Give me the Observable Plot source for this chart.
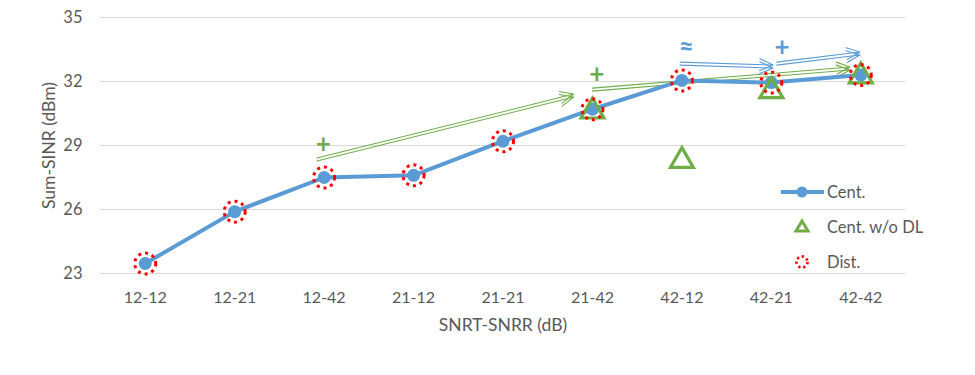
<!DOCTYPE html>
<html>
<head>
<meta charset="utf-8">
<script src="https://cdn.jsdelivr.net/npm/d3@7"></script>
<script src="https://cdn.jsdelivr.net/npm/@observablehq/plot@0.6"></script>
<style>
  body { margin: 0; background: #fff; }
  #wrap { position: relative; width: 975px; height: 375px; font-family: Lato, "Open Sans", sans-serif; }
  #legend { position: absolute; left: 778px; top: 174px; color: #595959; font-size: 16.5px; }
  #legend .item { display: flex; align-items: center; height: 35px; }
  #legend svg { width: 48px; height: 24px; margin-right: 1px; }
</style>
</head>
<body>
<div id="wrap"></div>
<script>
// SNRT-SNRR combinations on the x axis
const categories = ["12-12", "12-21", "12-42", "21-12", "21-21", "21-42", "42-12", "42-21", "42-42"];
const yTicks = [23, 26, 29, 32, 35];

// Sum-SINR (dBm) per scheme
const cent = [23.47, 25.9, 27.5, 27.6, 29.2, 30.7, 32.05, 31.95, 32.3];
const dist = [23.47, 25.9, 27.5, 27.6, 29.2, 30.7, 32.05, 31.95, 32.3];
const centNoDLCats = ["21-42", "42-12", "42-21", "42-42"];
const centNoDL = [30.6, 28.28, 31.55, 32.25];

// Trend arrows (category index, dBm)
const arrowColor = ["#70AD47", "#70AD47", "#5B9BD5", "#5B9BD5"];
const arrowX1 = [1.92, 5.0, 5.98, 7.06];
const arrowY1 = [28.34, 31.62, 32.84, 32.84];
const arrowX2 = [4.79, 7.88, 7.02, 7.99];
const arrowY2 = [31.34, 32.61, 32.70, 33.31];
const noteText = ["+", "+", "≈", "+"];
const noteX = [1.99, 5.05, 6.05, 7.12];
const noteY = [29.05, 32.3, 33.6, 33.6];

const centData = categories.map((c, i) => ({i, v: cent[i]}));
const distData = categories.map((c, i) => ({i, v: dist[i]}));
const noDLData = centNoDLCats.map((c, k) => ({i: categories.indexOf(c), v: centNoDL[k]}));
const arrows = arrowX1.map((x, k) => ({x1: x, y1: arrowY1[k], x2: arrowX2[k], y2: arrowY2[k], c: arrowColor[k]}));
const notes = noteText.map((t, k) => ({t, x: noteX[k], y: noteY[k], c: arrowColor[k]}));

const blue = "#5B9BD5", green = "#70AD47", red = "#FF0000", grey = "#595959";

// a hollow double-stroke arrow: two thin parallel strokes
const arrowOpts = dy => ({x1: "x1", y1: "y1", x2: "x2", y2: "y2", stroke: "c", strokeWidth: 1.1, headLength: 20, headAngle: 48, dy});

const chart = Plot.plot({
  width: 975,
  height: 375,
  marginLeft: 100,
  marginRight: 70,
  marginTop: 17,
  marginBottom: 102,
  style: {fontFamily: "Lato, 'Open Sans', sans-serif", fontSize: "16px", color: grey, background: "#fff"},
  x: {type: "linear", domain: [-0.5, 8.5]},
  y: {domain: [23, 35]},
  marks: [
    Plot.ruleY(yTicks, {stroke: "#d9d9d9", strokeWidth: 1.2}),
    Plot.axisY({ticks: yTicks, tickSize: 0, tickPadding: 18, fontSize: 16.5, label: null}),
    Plot.axisY({ticks: [], label: "Sum-SINR (dBm)", labelAnchor: "center", labelArrow: "none", labelOffset: 58, fontSize: 17.5}),
    Plot.axisX({ticks: d3.range(categories.length), tickFormat: i => categories[i], tickSize: 0, tickPadding: 18, fontSize: 16, label: null}),
    Plot.axisX({ticks: [], label: "SNRT-SNRR (dB)", labelAnchor: "center", labelArrow: "none", labelOffset: 57, fontSize: 17.5}),
    Plot.arrow(arrows, arrowOpts(-1.5)),
    Plot.arrow(arrows, arrowOpts(1.5)),
    Plot.text(notes, {x: "x", y: "y", text: "t", fill: "c", fontSize: 26, fontWeight: "bold"}),
    // Cent.
    Plot.line(centData, {x: "i", y: "v", stroke: blue, strokeWidth: 4}),
    Plot.dot(centData, {x: "i", y: "v", r: 6.5, fill: blue}),
    // Cent. w/o DL
    Plot.dot(noDLData, {x: "i", y: "v", symbol: "triangle", r: 8.5, stroke: green, strokeWidth: 3.2, fill: "none"}),
    // Dist.
    Plot.dot(distData, {x: "i", y: "v", r: 10.5, stroke: red, strokeWidth: 3, strokeDasharray: "3,4", fill: "none"})
  ]
});

const wrap = document.getElementById("wrap");
wrap.appendChild(chart);

const legend = document.createElement("div");
legend.id = "legend";
legend.innerHTML = `
  <div class="item"><svg viewBox="0 0 48 24"><line x1="3" y1="12" x2="46" y2="12" stroke="${blue}" stroke-width="4"/><circle cx="24" cy="12" r="5.5" fill="${blue}"/></svg>Cent.</div>
  <div class="item"><svg viewBox="0 0 48 24"><path d="M24 6 L30 16 L18 16 Z" fill="none" stroke="${green}" stroke-width="3"/></svg>Cent. w/o DL</div>
  <div class="item"><svg viewBox="0 0 48 24"><circle cx="24" cy="12" r="5.5" fill="none" stroke="${red}" stroke-width="2.8" stroke-dasharray="2.2,2.8"/></svg>Dist.</div>`;
wrap.appendChild(legend);
</script>
</body>
</html>
